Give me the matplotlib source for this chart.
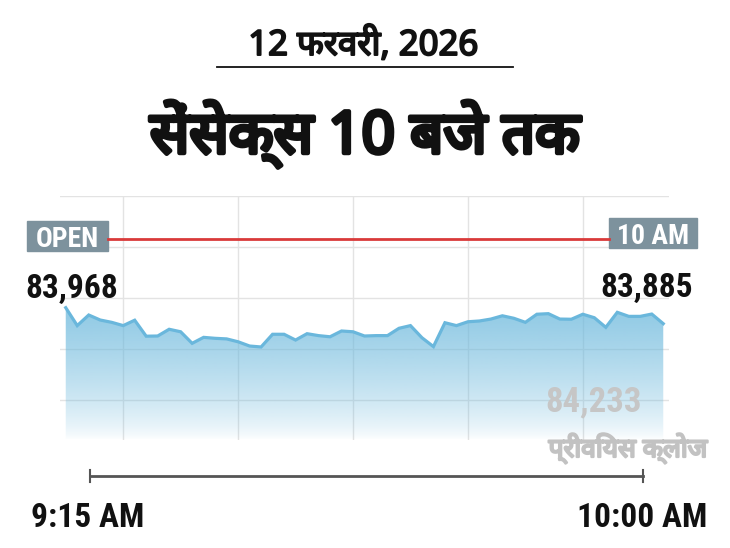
import matplotlib
matplotlib.use('Agg')
import matplotlib.pyplot as plt
import matplotlib.patheffects as pe
import numpy as np
from matplotlib import font_manager
from matplotlib.ft2font import FT2Font
from matplotlib.patches import Rectangle

# data
date_label = '12 फरवरी, 2026'
title = 'सेंसेक्स 10 बजे तक'
open_tag = 'OPEN'
end_tag = '10 AM'
start_time = '9:15 AM'
end_time = '10:00 AM'
prev_close = 84233
prev_close_label = 'प्रीवियस क्लोज'
sensex = [83968, 83875, 83930, 83904, 83892, 83875, 83903, 83820, 83821, 83856,
          83843, 83783, 83814, 83809, 83806, 83791, 83769, 83764, 83830, 83830,
          83800, 83833, 83823, 83817, 83847, 83843, 83821, 83823, 83823, 83861,
          83875, 83812, 83766, 83890, 83875, 83895, 83899, 83909, 83926, 83913,
          83892, 83934, 83937, 83909, 83908, 83934, 83916, 83866, 83944, 83923,
          83923, 83935, 83885]


def fonts_with(ch):
    names = []
    for f in font_manager.fontManager.ttflist:
        try:
            if ord(ch) in FT2Font(f.fname).get_charmap():
                if f.name not in names:
                    names.append(f.name)
        except Exception:
            pass
    names.sort(key=lambda n: (0 if 'Noto' in n else 1, 0 if 'Sans' in n else 1))
    return names


deva = fonts_with('क')
hindi_fam = deva[:1] + ['Noto Sans', 'DejaVu Sans']

narrow = [f.name for f in font_manager.fontManager.ttflist
          if ('Condensed' in f.name or 'Narrow' in f.name)]
narrow.sort(key=lambda n: (0 if 'Roboto' in n else 1 if 'Liberation' in n else 2))
cond_fam = narrow[:1] + ['DejaVu Sans']
hindi_cond = deva[:1] + cond_fam


def heavy(w, c):
    # fake a heavier weight for the Devanagari face
    return [pe.withStroke(linewidth=w, foreground=c)]


W, H = 730, 548
fig = plt.figure(figsize=(W / 100, H / 100), dpi=100)
fig.patch.set_facecolor('white')

# chart axes (pixel box 60..669 x 196..440)
ax = fig.add_axes([60 / W, 1 - 440 / H, 609 / W, 244 / H])
x = np.arange(len(sensex))
ylo, yhi = 83281, 84548
ax.set_xlim(-0.5, len(sensex) - 0.5)
ax.set_ylim(ylo, yhi)
ax.set_xticks(np.arange(5, len(sensex), 10))
ax.set_yticks(yhi - 264.7 * np.arange(5))
ax.grid(True, color='#e3e3e3', lw=1)
ax.tick_params(length=0, labelbottom=False, labelleft=False)
for s in ax.spines.values():
    s.set_visible(False)
ax.set_axisbelow(True)

poly = ax.fill_between(x, sensex, ylo, color='none', lw=0)
t = np.linspace(1, 0, 256)
alpha = 0.72 * np.clip(t / 0.5, 0, 1) ** 0.7
img = np.zeros((256, 1, 4))
img[..., 0] = 107 / 255
img[..., 1] = 184 / 255
img[..., 2] = 220 / 255
img[..., 3] = alpha[:, None]
im = ax.imshow(img, aspect='auto', extent=(-0.5, len(sensex) - 0.5, ylo, yhi),
               origin='upper', zorder=2, interpolation='bilinear')
im.set_clip_path(poly.get_paths()[0], transform=ax.transData)
ax.plot(x, sensex, color='#6ab7dc', lw=2.3, zorder=3, solid_joinstyle='miter')

# overlay in pixel coordinates
ov = fig.add_axes([0, 0, 1, 1], zorder=5)
ov.set_xlim(0, W)
ov.set_ylim(H, 0)
ov.axis('off')
ov.patch.set_alpha(0)

ov.text(363, 55, date_label, ha='center', va='baseline', fontsize=25,
        family=hindi_fam, color='#111111', path_effects=heavy(1.4, '#111111'))
ov.plot([217, 513], [67, 67], color='#111111', lw=1.3)
ov.text(365, 153, title, ha='center', va='baseline', fontsize=42,
        family=hindi_fam, color='#111111', path_effects=heavy(3.2, '#111111'))

ov.plot([108, 609], [239, 239], color='#d93a3a', lw=2)
ov.add_patch(Rectangle((27, 221), 81, 30, color='#7d929d'))
ov.add_patch(Rectangle((609, 218), 88, 30, color='#7d929d'))
ov.text(67.5, 247, open_tag, ha='center', va='baseline', fontsize=20,
        fontweight='bold', family=cond_fam, fontstretch='condensed', color='white')
ov.text(653, 244, end_tag, ha='center', va='baseline', fontsize=20,
        fontweight='bold', family=cond_fam, fontstretch='condensed', color='white')

ov.text(25, 298, f'{sensex[0]:,}', ha='left', va='baseline', fontsize=24,
        fontweight='bold', family=cond_fam, fontstretch='condensed', color='#111111')
ov.text(693, 297, f'{sensex[-1]:,}', ha='right', va='baseline', fontsize=24,
        fontweight='bold', family=cond_fam, fontstretch='condensed', color='#111111')

ov.text(594, 411, f'{prev_close:,}', ha='center', va='baseline', fontsize=25,
        fontweight='bold', family=cond_fam, fontstretch='condensed', color='#c6c6c6')
ov.text(628, 457, prev_close_label, ha='center', va='baseline', fontsize=19,
        family=hindi_cond, color='#c2c2c2', path_effects=heavy(1.6, '#c2c2c2'))

ov.plot([90, 643], [476, 476], color='#555555', lw=2)
ov.plot([90, 90], [470, 482], color='#555555', lw=1.5)
ov.plot([643, 643], [470, 482], color='#555555', lw=1.5)
ov.text(88, 527, start_time, ha='center', va='baseline', fontsize=24,
        fontweight='bold', family=cond_fam, fontstretch='condensed', color='#111111')
ov.text(642, 527, end_time, ha='center', va='baseline', fontsize=24,
        fontweight='bold', family=cond_fam, fontstretch='condensed', color='#111111')

fig.savefig('out.png', dpi=100)
